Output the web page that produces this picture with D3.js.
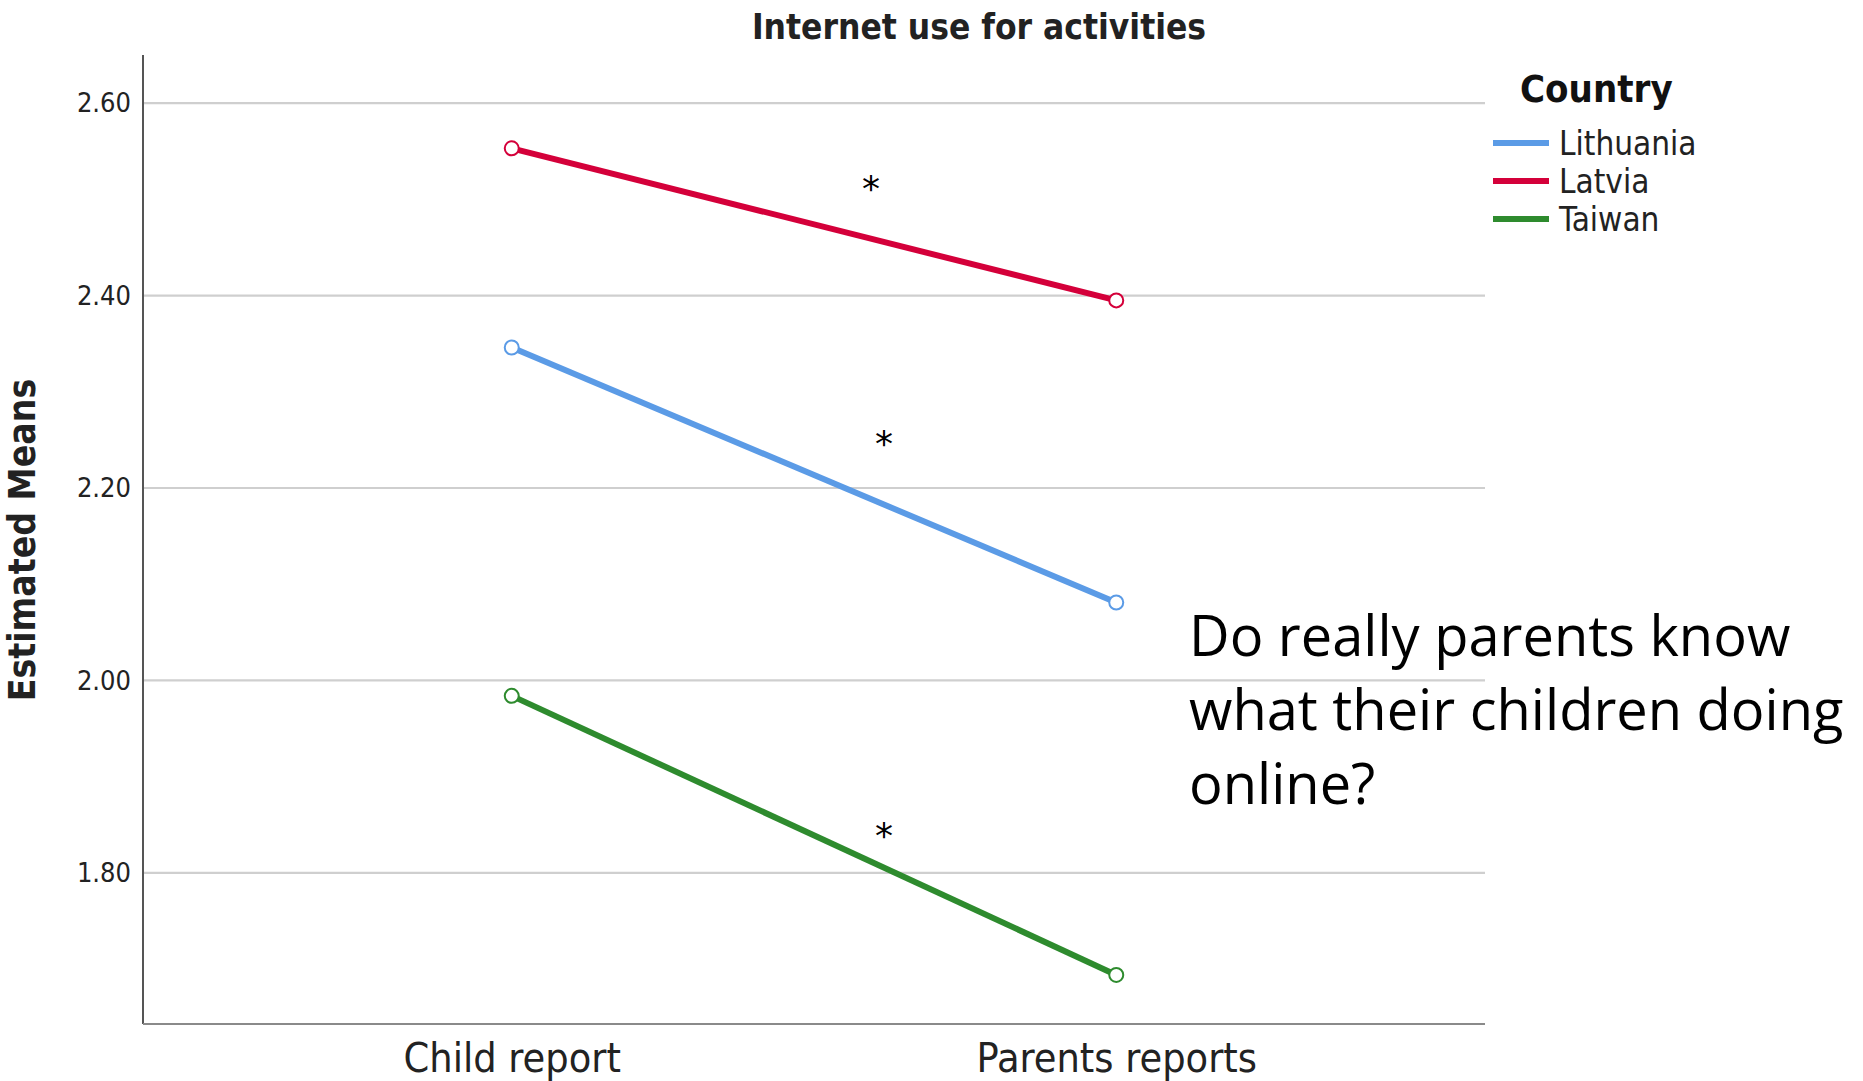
<!DOCTYPE html>
<html>
<head>
<meta charset="utf-8">
<script src="https://cdn.jsdelivr.net/npm/d3@7"></script>
<style>
  html, body { margin: 0; padding: 0; background: #fff; }
  svg { display: block; }
</style>
</head>
<body>
<svg id="chart" width="1863" height="1081"></svg>
<script>
const categories = ["Child report", "Parents reports"];
const countries = ["Lithuania", "Latvia", "Taiwan"];
const lithuania = [2.346, 2.081];
const latvia = [2.553, 2.395];
const taiwan = [1.984, 1.694];
const yTicks = [1.80, 2.00, 2.20, 2.40, 2.60];
const colors = ["#5b9be6", "#d4003a", "#2e8b2e"];
const seriesValues = [lithuania, latvia, taiwan];
// significance markers: anchor value on the y scale for each series
const starValues = [2.244, 2.509, 1.836];
const titleText = "Internet use for activities";
const yTitle = "Estimated Means";
const legendTitle = "Country";
const noteLines = ["Do really parents know", "what their children doing", "online?"];

(function () {
const svg = d3.select("#chart");
const pLeft = 143, pRight = 1485, pTop = 55, pBottom = 1024;
const cond = "DejaVu Sans Condensed, DejaVu Sans";

const x = d3.scalePoint().domain(categories).range([pLeft, pRight]).padding(0.61);
const y = d3.scaleLinear().domain([1.643, 2.650]).range([pBottom, pTop]);

// gridlines
svg.append("g").selectAll("line").data(yTicks).join("line")
  .attr("x1", pLeft).attr("x2", pRight)
  .attr("y1", d => y(d)).attr("y2", d => y(d))
  .attr("stroke", "#cfcfcf").attr("stroke-width", 2.2);

// y axis
const yAxis = svg.append("g").attr("transform", `translate(${pLeft},0)`)
  .call(d3.axisLeft(y).tickValues(yTicks).tickFormat(d3.format(".2f")).tickSize(0).tickPadding(12));
yAxis.select(".domain").remove();
yAxis.selectAll("text").attr("font-family", cond).attr("font-size", 27).attr("fill", "#222");

svg.append("line").attr("x1", pLeft).attr("x2", pLeft).attr("y1", pTop).attr("y2", pBottom)
  .attr("stroke", "#555").attr("stroke-width", 2);
svg.append("line").attr("x1", pLeft).attr("x2", pRight).attr("y1", pBottom).attr("y2", pBottom)
  .attr("stroke", "#8a8a8a").attr("stroke-width", 2.2);

// x axis
const xAxis = svg.append("g").attr("transform", `translate(0,${pBottom})`)
  .call(d3.axisBottom(x).tickSize(0).tickPadding(19));
xAxis.select(".domain").remove();
xAxis.selectAll("text").attr("font-family", cond).attr("font-size", 41).attr("fill", "#222");

// lines
const line = d3.line().x((d, i) => x(categories[i])).y(d => y(d));
seriesValues.forEach((vals, k) => {
  svg.append("path").datum(vals).attr("d", line)
    .attr("fill", "none").attr("stroke", colors[k]).attr("stroke-width", 6);
  svg.append("g").selectAll("circle").data(vals).join("circle")
    .attr("cx", (d, i) => x(categories[i])).attr("cy", d => y(d)).attr("r", 7)
    .attr("fill", "#fff").attr("stroke", colors[k]).attr("stroke-width", 2);
});

// asterisks
svg.append("g").selectAll("text").data(starValues).join("text")
  .attr("x", (d, k) => (x(categories[0]) + x(categories[1])) / 2 + (k === 1 ? 57 : 70))
  .attr("y", d => y(d))
  .attr("text-anchor", "middle").attr("dominant-baseline", "middle")
  .attr("font-family", "DejaVu Sans").attr("font-size", 36).attr("fill", "#000").text("*");

// title
svg.append("text").attr("x", 979).attr("y", 39).attr("text-anchor", "middle")
  .attr("font-family", cond).attr("font-weight", "bold")
  .attr("font-size", 35).attr("fill", "#222").text(titleText);

// y title
svg.append("text").attr("transform", "translate(35,540) rotate(-90)").attr("text-anchor", "middle")
  .attr("font-family", cond).attr("font-weight", "bold")
  .attr("font-size", 37).attr("fill", "#222").text(yTitle);

// legend
const lg = svg.append("g");
lg.append("text").attr("x", 1520).attr("y", 102)
  .attr("font-family", cond).attr("font-weight", "bold")
  .attr("font-size", 38).attr("fill", "#111").text(legendTitle);
countries.forEach((c, k) => {
  const yy = 143 + k * 38;
  lg.append("line").attr("x1", 1493).attr("x2", 1549).attr("y1", yy).attr("y2", yy)
    .attr("stroke", colors[k]).attr("stroke-width", 6);
  lg.append("text").attr("x", 1559).attr("y", yy).attr("dominant-baseline", "central")
    .attr("font-family", cond)
    .attr("font-size", 33).attr("fill", "#222").text(c);
});

// note
svg.append("g").selectAll("text").data(noteLines).join("text")
  .attr("x", 1189).attr("y", (d, i) => 656 + i * 74)
  .attr("font-family", "Open Sans").attr("font-size", 56).attr("fill", "#000").text(d => d);
})();
</script>
</body>
</html>
